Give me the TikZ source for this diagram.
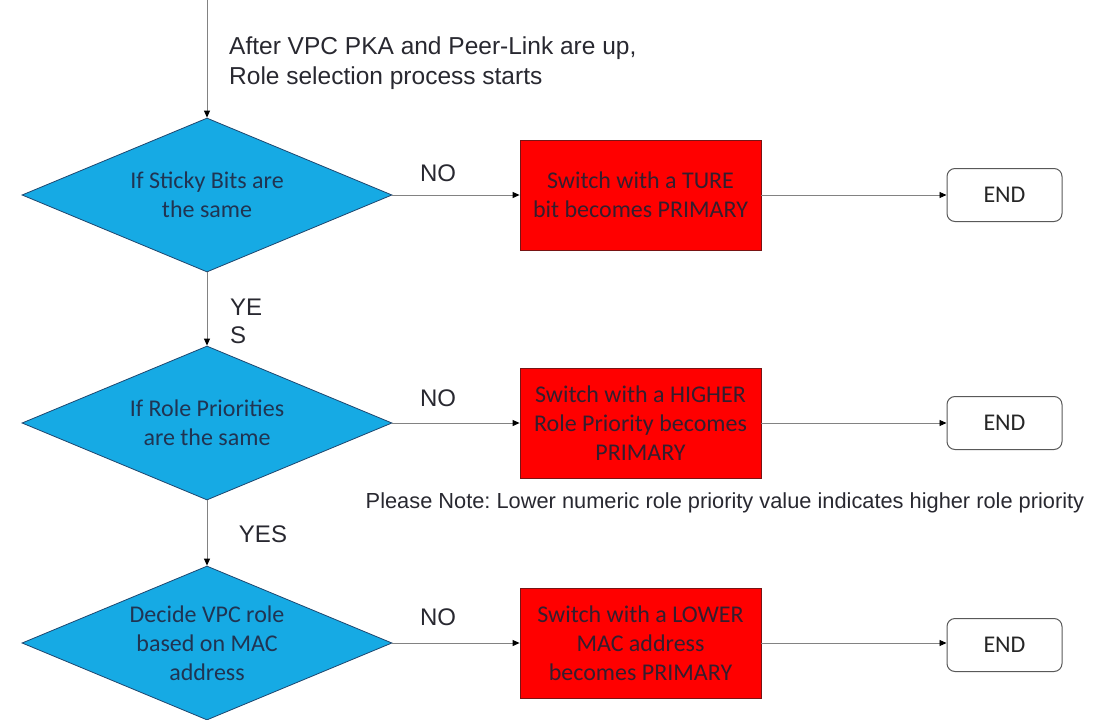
\documentclass[tikz,border=0pt]{standalone}
\usepackage{fontspec}
\setmainfont{Carlito}
\newfontfamily\arialfont{Liberation Sans}
\usetikzlibrary{shapes.geometric,arrows.meta}
\definecolor{decfill}{RGB}{22,170,228}
\definecolor{decline}{RGB}{30,70,110}
\definecolor{dectext}{RGB}{32,52,82}
\definecolor{actfill}{RGB}{255,0,0}
\definecolor{actline}{RGB}{120,20,20}
\definecolor{acttext}{RGB}{52,30,46}
\definecolor{flowline}{RGB}{130,130,130}
\definecolor{labeltext}{RGB}{40,40,48}
\frenchspacing
\begin{document}
\begin{tikzpicture}[x=1pt,y=-1pt,
  decision/.style={diamond, aspect=2.4, draw=decline, line width=0.8pt, fill=decfill,
    minimum width=370pt, minimum height=154pt, inner sep=0pt, align=center,
    text=dectext, font=\fontsize{24}{29}\selectfont},
  action/.style={rectangle, draw=actline, line width=0.8pt, fill=actfill,
    minimum width=241pt, minimum height=110pt, inner sep=0pt, align=center,
    text=acttext, font=\fontsize{24}{29}\selectfont},
  endbox/.style={rectangle, rounded corners=8pt, draw=black!65, line width=1pt, fill=white,
    minimum width=115pt, minimum height=53pt, font=\fontsize{24}{29}\selectfont, text=black!85},
  flow/.style={draw=flowline, line width=0.9pt, -{Triangle[black,length=7pt,width=6pt]}},
  lbl/.style={font=\arialfont\fontsize{24}{30}\selectfont, text=labeltext, inner sep=0pt},
]
\useasboundingbox (0,0) rectangle (1104,720);

% decisions
\node[decision] (d1) at (207,195) {If Sticky Bits are\\the same};
\node[decision] (d2) at (207,423) {If Role Priorities\\are the same};
\node[decision] (d3) at (207,643) {Decide VPC role\\based on MAC\\address};

% actions
\node[action] (a1) at (640.5,195) {Switch with a TURE\\bit becomes PRIMARY};
\node[action] (a2) at (640.5,423) {Switch with a HIGHER\\Role Priority becomes\\PRIMARY};
\node[action] (a3) at (640.5,643) {Switch with a LOWER\\MAC address\\becomes PRIMARY};

% terminals
\node[endbox] (e1) at (1004.5,195) {END};
\node[endbox] (e2) at (1004.5,423) {END};
\node[endbox] (e3) at (1004.5,645) {END};

% flow
\coordinate (start) at (207,0);
\draw[flow] (start) -- (d1.north);
\draw[flow] (d1.south) -- (d2.north);
\draw[flow] (d2.south) -- (d3.north);
\draw[flow] (d1.east) -- (a1.west);
\draw[flow] (d2.east) -- (a2.west);
\draw[flow] (d3.east) -- (a3.west);
\draw[flow] (a1.east) -- (e1.west |- a1.east);
\draw[flow] (a2.east) -- (e2.west |- a2.east);
\draw[flow] (a3.east) -- (e3.west |- a3.east);

% labels
\node[lbl, anchor=west, align=left, font=\arialfont\fontsize{24.5}{30}\selectfont] (intro) at (229,63)
  {After VPC PKA and Peer-Link are up,\\Role selection process starts};
\node[lbl] (no1) at (438,173) {NO};
\node[lbl] (no2) at (438,398) {NO};
\node[lbl] (no3) at (438,617) {NO};
\node[lbl, anchor=west, align=left, font=\arialfont\fontsize{24}{28}\selectfont] (yes1) at (230,321) {YE\\S};
\node[lbl] (yes2) at (263,534) {YES};
\node[lbl, font=\arialfont\fontsize{21.8}{26}\selectfont] (note) at (725,503)
  {Please Note: Lower numeric role priority value indicates higher role priority};
\end{tikzpicture}
\end{document}
